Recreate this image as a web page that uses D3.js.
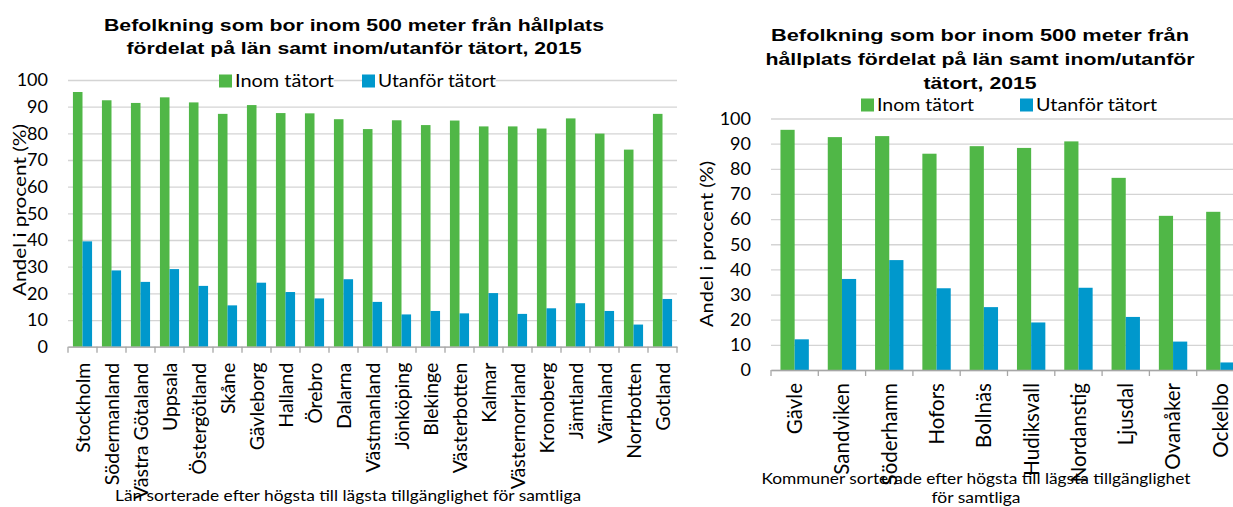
<!DOCTYPE html>
<html>
<head>
<meta charset="utf-8">
<script src="https://cdn.jsdelivr.net/npm/d3@7"></script>
<style>
  body { margin: 0; background: #fff; }
  svg { display: block; }
</style>
</head>
<body>
<svg id="chart" width="1233" height="507"></svg>
<script>
// län, sorted as in the source
const lanNames = ["Stockholm", "Södermanland", "Västra Götaland", "Uppsala", "Östergötland", "Skåne",
  "Gävleborg", "Halland", "Örebro", "Dalarna", "Västmanland", "Jönköping", "Blekinge", "Västerbotten",
  "Kalmar", "Västernorrland", "Kronoberg", "Jämtland", "Värmland", "Norrbotten", "Gotland"];
const lanInom = [95.5, 92.4, 91.4, 93.5, 91.6, 87.3, 90.6, 87.6, 87.5, 85.3, 81.6, 84.9, 83.1, 84.8,
  82.6, 82.6, 81.8, 85.6, 79.9, 73.9, 87.3];
const lanUtanfor = [39.5, 28.6, 24.3, 29.1, 22.8, 15.5, 24.0, 20.5, 18.1, 25.3, 16.8, 12.1, 13.4, 12.5,
  20.1, 12.3, 14.4, 16.3, 13.4, 8.3, 17.9];

// kommuner i Gävleborg
const kommunNames = ["Gävle", "Sandviken", "Söderhamn", "Hofors", "Bollnäs", "Hudiksvall",
  "Nordanstig", "Ljusdal", "Ovanåker", "Ockelbo"];
const kommunInom = [95.5, 92.6, 93.0, 86.0, 89.0, 88.3, 90.9, 76.4, 61.3, 62.9];
const kommunUtanfor = [12.2, 36.2, 43.7, 32.5, 25.0, 18.9, 32.7, 21.1, 11.3, 3.0];

const yTicks = [0, 10, 20, 30, 40, 50, 60, 70, 80, 90, 100];
const seriesKeys = ["inom", "utanfor"];
const seriesLabels = ["Inom tätort", "Utanför tätort"];

const color = d3.scaleOrdinal().domain(seriesKeys).range(["#50b747", "#0098cc"]);
const bodyFont = "Lato, 'Open Sans', sans-serif";
const titleFont = "'Liberation Sans', Arial, sans-serif";

const svg = d3.select("#chart");

function drawChart(cfg) {
  const g = svg.append("g");

  const x = d3.scaleBand().domain(cfg.categories).range([cfg.left, cfg.right]).padding(0);
  const y = d3.scaleLinear().domain([0, 100]).range([cfg.bottom, cfg.top]);
  const group = x.bandwidth() * cfg.groupShare;
  const x1 = d3.scaleBand().domain(seriesKeys).range([0, group]);

  // gridlines + y tick labels
  g.append("g")
    .attr("transform", `translate(${cfg.left},0)`)
    .call(d3.axisLeft(y).tickValues(yTicks).tickSize(-(cfg.right - cfg.left)).tickPadding(cfg.tickPad))
    .call(a => a.select(".domain").remove())
    .call(a => a.selectAll("line").attr("stroke", "#d4d4d4").attr("stroke-width", 1.3))
    .call(a => a.selectAll("text")
      .attr("font-family", bodyFont).attr("font-size", cfg.tickFont).attr("fill", "#000"));

  // bars
  const rows = cfg.categories.map((c, i) => ({
    cat: c,
    values: [{ key: "inom", v: cfg.inom[i] }, { key: "utanfor", v: cfg.utanfor[i] }]
  }));
  g.selectAll("g.grp").data(rows).join("g")
    .attr("class", "grp")
    .attr("transform", d => `translate(${x(d.cat) + (x.bandwidth() - group) / 2},0)`)
    .selectAll("rect").data(d => d.values).join("rect")
      .attr("x", d => x1(d.key))
      .attr("width", x1.bandwidth())
      .attr("y", d => y(d.v))
      .attr("height", d => y(0) - y(d.v))
      .attr("fill", d => color(d.key));

  // x axis
  const xa = g.append("g")
    .attr("transform", `translate(0,${cfg.bottom})`)
    .call(d3.axisBottom(x).tickSize(0).tickSizeOuter(0));
  xa.select(".domain").attr("stroke", "#a6a6a6").attr("stroke-width", 1.3);
  xa.selectAll(".tick text")
    .attr("transform", "rotate(-90)")
    .attr("x", -cfg.labelGap)
    .attr("y", 0)
    .attr("dy", "0.36em")
    .attr("text-anchor", "end")
    .attr("font-family", bodyFont)
    .attr("font-size", cfg.catFont)
    .attr("fill", "#000");

  // tick marks sit between the categories
  const bounds = cfg.categories.map(c => x(c)).concat([x.range()[1]]);
  xa.selectAll("line.sep").data(bounds).join("line")
    .attr("class", "sep")
    .attr("x1", d => d).attr("x2", d => d)
    .attr("y1", 0).attr("y2", 6)
    .attr("stroke", "#a6a6a6").attr("stroke-width", 1.3);

  // title, one <text> per line so each can be fitted to its width
  cfg.title.forEach((line, i) => {
    g.append("text")
      .attr("x", cfg.titleX).attr("y", cfg.titleY + i * cfg.titleStep)
      .attr("text-anchor", "middle")
      .attr("font-family", titleFont).attr("font-weight", "bold").attr("font-size", 17)
      .attr("fill", "#000")
      .attr("textLength", cfg.titleWidths[i]).attr("lengthAdjust", "spacingAndGlyphs")
      .text(line);
  });

  // legend (white box hides the gridline behind it)
  const lg = g.append("g").selectAll("g").data(seriesKeys).join("g")
    .attr("transform", (d, i) => `translate(${cfg.legendX[i]},${cfg.legendY})`);
  lg.append("rect")
    .attr("x", 0).attr("y", -10).attr("height", 20)
    .attr("width", (d, i) => 16 + cfg.legendWidths[i])
    .attr("fill", "#fff");
  lg.append("rect").attr("x", 0).attr("y", -6.5).attr("width", 13).attr("height", 13)
    .attr("fill", d => color(d));
  lg.append("text").attr("x", 16).attr("y", 0).attr("dy", "0.36em")
    .attr("font-family", bodyFont).attr("font-size", cfg.legendFont).attr("fill", "#000")
    .attr("textLength", (d, i) => cfg.legendWidths[i]).attr("lengthAdjust", "spacingAndGlyphs")
    .text((d, i) => seriesLabels[i]);

  // y axis title
  g.append("text")
    .attr("transform", `translate(${cfg.yTitleX},${cfg.yTitleY}) rotate(-90)`)
    .attr("text-anchor", "middle").attr("dy", "0.35em")
    .attr("font-family", bodyFont).attr("font-size", cfg.yTitleFont).attr("fill", "#000")
    .attr("textLength", cfg.yTitleWidth).attr("lengthAdjust", "spacingAndGlyphs")
    .text("Andel i procent (%)");

  // x axis title
  cfg.xTitle.forEach((line, i) => {
    g.append("text")
      .attr("x", cfg.xTitleX).attr("y", cfg.xTitleY + i * 19)
      .attr("text-anchor", "middle")
      .attr("font-family", bodyFont).attr("font-size", cfg.xTitleFont).attr("fill", "#000")
      .attr("textLength", cfg.xTitleWidths[i]).attr("lengthAdjust", "spacingAndGlyphs")
      .text(line);
  });
}

drawChart({
  categories: lanNames, inom: lanInom, utanfor: lanUtanfor,
  left: 68, right: 677, top: 80, bottom: 346.7,
  groupShare: 0.66, tickPad: 20, tickFont: 18, catFont: 19.5, labelGap: 16,
  title: ["Befolkning som bor inom 500 meter från hållplats", "fördelat på län samt inom/utanför tätort, 2015"],
  titleWidths: [500, 455],
  titleX: 354, titleY: 30.5, titleStep: 23.5,
  legendX: [219, 362], legendY: 81, legendFont: 17, legendWidths: [99, 118],
  yTitleX: 20, yTitleY: 210, yTitleFont: 18, yTitleWidth: 172,
  xTitle: ["Län sorterade efter högsta till lägsta tillgänglighet för samtliga"],
  xTitleWidths: [466],
  xTitleX: 348, xTitleY: 501, xTitleFont: 15
});

drawChart({
  categories: kommunNames, inom: kommunInom, utanfor: kommunUtanfor,
  left: 771, right: 1244, top: 118.5, bottom: 370,
  groupShare: 0.6, tickPad: 20, tickFont: 18, catFont: 20.5, labelGap: 13,
  title: ["Befolkning som bor inom 500 meter från", "hållplats fördelat på län samt inom/utanför", "tätort, 2015"],
  titleWidths: [418, 429, 113],
  titleX: 980, titleY: 41, titleStep: 24,
  legendX: [861, 1020], legendY: 105, legendFont: 17, legendWidths: [97, 121],
  yTitleX: 707, yTitleY: 244, yTitleFont: 18, yTitleWidth: 166,
  xTitle: ["Kommuner sorterade efter högsta till lägsta tillgänglighet", "för samtliga"],
  xTitleWidths: [429, 89],
  xTitleX: 976, xTitleY: 484, xTitleFont: 15
});
</script>
</body>
</html>
